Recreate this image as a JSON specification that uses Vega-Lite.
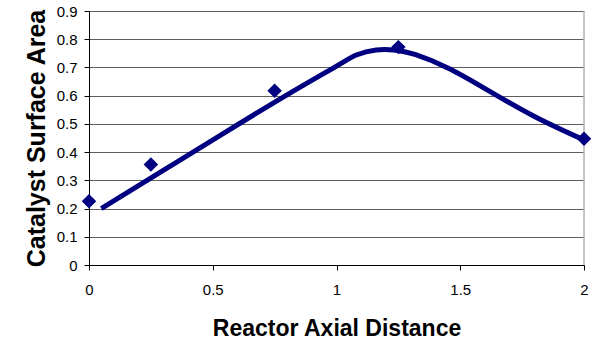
{
  "$schema": "https://vega.github.io/schema/vega-lite/v6.json",
  "width": 495,
  "height": 254,
  "autosize": "none",
  "padding": {"left": 89, "top": 11, "right": 10, "bottom": 76},
  "background": "white",
  "config": {
    "view": {"stroke": null},
    "font": "Liberation Sans"
  },
  "datasets": {
    "measured": [
      {"distance": 0, "area": 0.226},
      {"distance": 0.25, "area": 0.356},
      {"distance": 0.75, "area": 0.617},
      {"distance": 1.25, "area": 0.772},
      {"distance": 2, "area": 0.447}
    ],
    "trend": [
      {"distance": 0.05, "area": 0.2},
      {"distance": 0.3, "area": 0.335},
      {"distance": 0.55, "area": 0.47},
      {"distance": 0.8, "area": 0.603},
      {"distance": 1.0, "area": 0.705},
      {"distance": 1.08, "area": 0.744},
      {"distance": 1.16, "area": 0.762},
      {"distance": 1.24, "area": 0.761},
      {"distance": 1.32, "area": 0.745},
      {"distance": 1.45, "area": 0.698},
      {"distance": 1.6, "area": 0.625},
      {"distance": 1.8, "area": 0.526},
      {"distance": 2.0, "area": 0.443}
    ]
  },
  "encoding": {
    "x": {
      "field": "distance",
      "type": "quantitative",
      "scale": {"domain": [0, 2], "nice": false},
      "axis": {
        "values": [0, 0.5, 1, 1.5, 2],
        "tickCount": 20,
        "format": "~g",
        "grid": false,
        "domainColor": "#000000",
        "domainWidth": 1,
        "tickColor": "#000000",
        "tickSize": 5,
        "labelFontSize": 15,
        "labelColor": "#000000",
        "labelPadding": 12,
        "labelFlush": false,
        "labelOverlap": false,
        "title": "Reactor Axial Distance",
        "titleFontSize": 23,
        "titleFontWeight": "bold",
        "titleColor": "#000000",
        "titlePadding": 20
      }
    },
    "y": {
      "field": "area",
      "type": "quantitative",
      "scale": {"domain": [0, 0.9], "nice": false},
      "axis": {
        "values": [0, 0.1, 0.2, 0.3, 0.4, 0.5, 0.6, 0.7, 0.8, 0.9],
        "tickCount": 20,
        "format": "~g",
        "grid": true,
        "gridColor": "#5e5e5e",
        "gridWidth": 1,
        "domainColor": "#000000",
        "domainWidth": 1,
        "tickColor": "#000000",
        "tickSize": 5,
        "labelFontSize": 15,
        "labelColor": "#000000",
        "labelPadding": 7,
        "labelOverlap": false,
        "labelFlush": false,
        "title": "Catalyst Surface Area",
        "titleFontSize": 25,
        "titleFontWeight": "bold",
        "titleColor": "#000000",
        "titlePadding": 7
      }
    }
  },
  "layer": [
    {
      "data": {"values": [{"distance": 2, "area": 0, "top": 0.9}]},
      "mark": {"type": "rule", "color": "#b4b4b4", "strokeWidth": 1.5},
      "encoding": {
        "y2": {"field": "top"}
      }
    },
    {
      "data": {"name": "trend"},
      "mark": {"type": "line", "color": "#000080", "strokeWidth": 5, "interpolate": "natural", "strokeCap": "butt"},
      "encoding": {}
    },
    {
      "data": {"name": "measured"},
      "mark": {"type": "point", "shape": "diamond", "filled": true, "color": "#000080", "opacity": 1, "size": 210},
      "encoding": {}
    }
  ]
}
